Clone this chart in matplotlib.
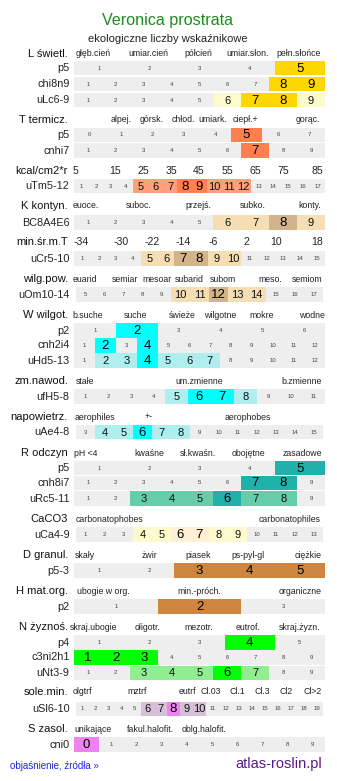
import matplotlib
matplotlib.use('Agg')
import matplotlib.pyplot as plt

plt.rcParams['font.family'] = ['Liberation Sans', 'DejaVu Sans']

# ---------------- data ----------------
title = 'Veronica prostrata'
subtitle = 'ekologiczne liczby wskaźnikowe'

# section headers and their scale descriptions
sections = ['L świetl.', 'T termicz.', 'kcal/cm2*r', 'K kontyn.', 'min.śr.m.T',
            'wilg.pow.', 'W wilgot.', 'zm.nawod.', 'napowietrz.', 'R odczyn',
            'CaCO3', 'D granul.', 'H mat.org.', 'N żyznoś.', 'sole.min.', 'S zasol.']
scale_L = ['głęb.cień', 'umiar.cień', 'półcień', 'umiar.słon.', 'pełn.słońce']
scale_T = ['alpej.', 'górsk.', 'chłod.', 'umiark.', 'ciepł.+', 'gorąc.']
scale_kcal = ['5', '15', '25', '35', '45', '55', '65', '75', '85']
scale_K = ['euoce.', 'suboc.', 'przejś.', 'subko.', 'konty.']
scale_minT = ['-34', '-30', '-22', '-14', '-6', '2', '10', '18']
scale_wilg = ['euarid', 'semiar', 'mesoar', 'subarid', 'subom', 'meso.', 'semiom']
scale_W = ['b.suche', 'suche', 'świeże', 'wilgotne', 'mokre', 'wodne']
scale_zm = ['stałe', 'um.zmienne', 'b.zmienne']
scale_napow = ['aerophiles', '+-', 'aerophobes']
scale_R = ['pH <4', 'kwaśne', 'sł.kwaśn.', 'obojętne', 'zasadowe']
scale_Ca = ['carbonatophobes', 'carbonatophiles']
scale_D = ['skały', 'żwir', 'piasek', 'ps-pyl-gl', 'ciężkie']
scale_H = ['ubogie w org.', 'min.-próch.', 'organiczne']
scale_N = ['skraj.ubogie', 'oligotr.', 'mezotr.', 'eutrof.', 'skraj.żyzn.']
scale_sole = ['olgtrf', 'mztrf', 'eutrf', 'Cl.03', 'Cl.1', 'Cl.3', 'Cl2', 'Cl>2']
scale_S = ['unikające', 'fakul.halofit.', 'oblg.halofit.']
scales = [scale_L, scale_T, scale_kcal, scale_K, scale_minT, scale_wilg, scale_W,
          scale_zm, scale_napow, scale_R, scale_Ca, scale_D, scale_H, scale_N,
          scale_sole, scale_S]

# rows: label, section, first/last cell value, strong values, weak values
row_labels = ['p5', 'chi8n9', 'uLc6-9', 'p5', 'cnhi7', 'uTm5-12', 'BC8A4E6', 'uCr5-10',
              'uOm10-14', 'p2', 'cnh2i4', 'uHd5-13', 'ufH5-8', 'uAe4-8', 'p5', 'cnh8i7',
              'uRc5-11', 'uCa4-9', 'p5-3', 'p2', 'p4', 'c3ni2h1', 'uNt3-9', 'uSl6-10', 'cni0']
row_section = [0, 0, 0, 1, 1, 2, 3, 4, 5, 6, 6, 6, 7, 8, 9, 9, 9, 10, 11, 12, 13, 13, 13, 14, 15]
row_first = [1, 1, 1, 0, 1, 1, 1, 1, 5, 1, 1, 1, 1, 3, 1, 1, 1, 1, 1, 1, 1, 1, 1, 1, 0]
row_last = [5, 9, 9, 7, 9, 17, 9, 15, 17, 6, 12, 12, 11, 15, 5, 9, 9, 13, 5, 3, 5, 9, 9, 19, 9]
row_strong = [[5], [8, 9], [7, 8], [5], [7], [8, 9], [8], [7, 8], [12], [2], [2, 4], [4],
              [6, 7], [6], [5], [7, 8], [6], [6, 7], [3, 4, 5], [2], [4], [1, 2, 3], [6],
              [8], [0]]
row_weak = [[], [], [6, 9], [], [], [5, 6, 7, 10, 11, 12], [6, 7, 9], [5, 6, 9, 10],
            [10, 11, 13, 14], [], [], [2, 3, 5, 6, 7], [5, 8], [4, 5, 7, 8], [], [],
            [3, 4, 5, 7, 8], [4, 5, 8, 9], [], [], [], [], [3, 4, 5, 7], [6, 7, 9, 10], []]

# colours per section: (strong, weak)
sec_colors = [('#FFD700', '#FFFACD'), ('#FF7F50', '#FFA07A'), ('#FF7F50', '#FFA07A'),
              ('#D2B48C', '#F5DEB3'), ('#D2B48C', '#F5DEB3'), ('#D2B48C', '#F5DEB3'),
              ('#00FFFF', '#AFEEEE'), ('#00FFFF', '#AFEEEE'), ('#00FFFF', '#AFEEEE'),
              ('#20B2AA', '#66CDAA'), ('#FFEFD5', '#FFFACD'), ('#CD853F', '#DEB887'),
              ('#CD853F', '#DEB887'), ('#00FF00', '#90EE90'), ('#EE82EE', '#D8BFD8'),
              ('#EE82EE', '#D8BFD8')]

# ---------------- layout (pixels) ----------------
W, H = 337, 781
sec_y = [54, 120, 171, 206, 242, 279, 315, 381, 417, 453, 519, 555, 591, 627, 692, 729]
scale_x = [[93, 148, 198, 248, 299],
           [121, 152, 183, 213, 245, 308],
           [76, 115, 143, 171, 199, 227, 255, 283, 317],
           [86, 139, 198, 253, 310],
           [81, 121, 152, 183, 213, 246, 276, 317],
           [85, 125, 157, 189, 223, 270, 307],
           [88, 136, 182, 220, 262, 312],
           [85, 199, 302],
           [95, 149, 248],
           [86, 149, 198, 248, 302],
           [110, 290],
           [85, 149, 198, 248, 308],
           [103, 199, 300],
           [94, 148, 199, 248, 300],
           [82, 137, 187, 211, 237, 262, 286, 313],
           [93, 150, 204]]
big_scale = [2, 4]  # numeric scales drawn in larger type
row_y = [68, 84, 100, 135, 150.5, 186, 222.5, 258.5, 294.5, 330.5, 345.5, 360.5, 396.5,
         432, 468, 483, 498.5, 534.5, 570.5, 606.5, 642.5, 657.5, 673, 709, 744.5]
narrow_rows = [8, 13, 17, 23]
row_h = 14.5

fig = plt.figure(figsize=(W / 100, H / 100), dpi=100)
ax = fig.add_axes([0, 0, 1, 1])
ax.set_xlim(0, W)
ax.set_ylim(H, 0)
ax.axis('off')

ax.text(167, 21, title, color='#1E8B1E', fontsize=11.6, ha='center', va='center')
ax.text(168, 38.5, subtitle, color='#222222', fontsize=8.0, ha='center', va='center')

for s, name in enumerate(sections):
    ax.text(68, sec_y[s], name, fontsize=8.0, ha='right', va='center', color='#111111')
    fs = 7.6 if s in big_scale else 6.3
    for lab, x in zip(scales[s], scale_x[s]):
        ax.text(x, sec_y[s], lab, fontsize=fs, ha='center', va='center', color='#222222')

for r, lab in enumerate(row_labels):
    y = row_y[r]
    s = row_section[r]
    x0, x1 = (76, 323) if r in narrow_rows else (74, 325)
    vals = list(range(row_first[r], row_last[r] + 1))
    w = (x1 - x0) / len(vals)
    cols = []
    for v in vals:
        if v in row_strong[r]:
            cols.append(sec_colors[s][0])
        elif v in row_weak[r]:
            cols.append(sec_colors[s][1])
        else:
            cols.append('#EEEEEE')
    lefts = [x0 + i * w for i in range(len(vals))]
    ax.barh([y] * len(vals), [w] * len(vals), left=lefts, height=row_h,
            color=cols, linewidth=0)
    for i, v in enumerate(vals):
        cx = lefts[i] + w / 2
        if v in row_strong[r]:
            ax.text(cx, y + 0.5, str(v), fontsize=9.5, ha='center', va='center', color='#000000')
        elif v in row_weak[r]:
            ax.text(cx, y + 0.5, str(v), fontsize=8, ha='center', va='center', color='#111111')
        else:
            ax.text(cx, y, str(v), fontsize=4.3, ha='center', va='center', color='#444444')
    ax.text(69.5, y, lab, fontsize=7.8, ha='right', va='center', color='#222222')

ax.text(10, 766, 'objaśnienie, źródła »', fontsize=7, ha='left', va='center', color='#2222EE')
ax.text(322, 764, 'atlas-roslin.pl', fontsize=10.5, ha='right', va='center', color='#5A1A8A')

fig.savefig('out.png', dpi=100)
